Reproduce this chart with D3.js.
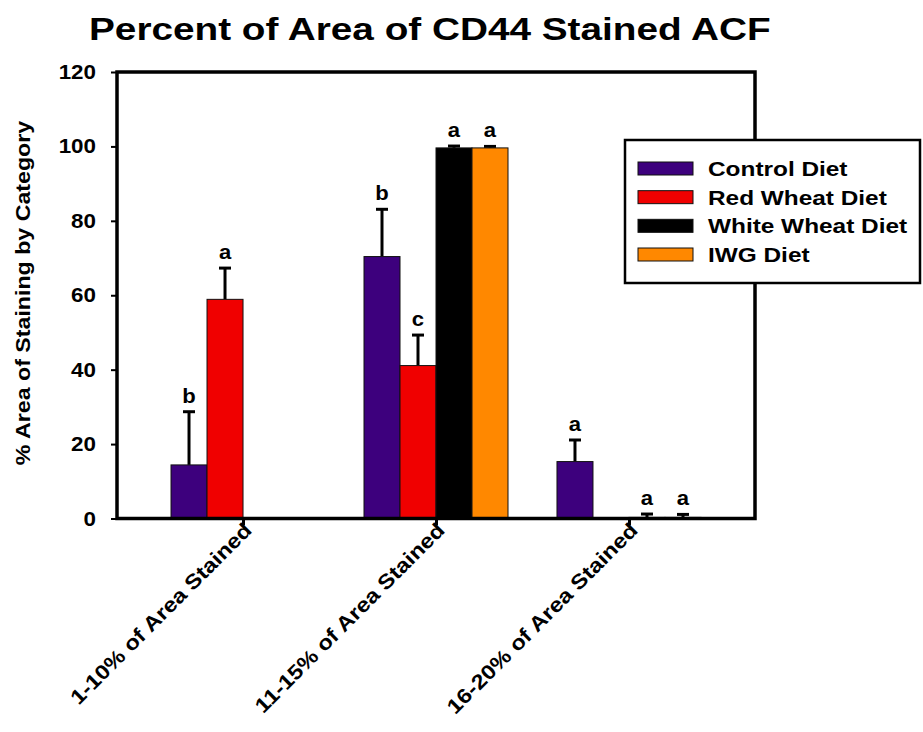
<!DOCTYPE html>
<html><head><meta charset="utf-8">
<script src="https://cdn.jsdelivr.net/npm/d3@7"></script>
<style>body{margin:0;background:#fff}svg{display:block;font-family:"Liberation Sans",Arial,sans-serif;font-weight:bold}</style>
</head><body><div id="chart"></div>
<script>
const title = "Percent of Area of CD44 Stained ACF";
const yTitle = "% Area of Staining by Category";
const categories = ["1-10% of Area Stained","11-15% of Area Stained","16-20% of Area Stained"];
const seriesNames = ["Control Diet","Red Wheat Diet","White Wheat Diet","IWG Diet"];
const seriesColors = ["#3d007d","#f00000","#000000","#ff8800"];
const controlVals = [14.4, 70.4, 15.3];
const controlErr  = [14.3, 12.7, 5.8];
const redVals     = [58.9, 41.1, null];
const redErr      = [8.4, 8.2, null];
const whiteVals   = [null, 99.6, 0.3];
const whiteErr    = [null, 0.5, 0.9];
const iwgVals     = [null, 99.6, 0.3];
const iwgErr      = [null, 0.4, 0.8];
const controlLetters = ["b","b","a"];
const redLetters     = ["a","c",""];
const whiteLetters   = ["","a","a"];
const iwgLetters     = ["","a","a"];
const yTicks = [0,20,40,60,80,100,120];

const vals = [controlVals, redVals, whiteVals, iwgVals];
const errs = [controlErr, redErr, whiteErr, iwgErr];
const letters = [controlLetters, redLetters, whiteLetters, iwgLetters];

const W = 923, H = 732;
const L = 117, R = 755, T = 72, B = 518.5;
const SX = 1.2;

const svg = d3.select("#chart").append("svg").attr("width", W).attr("height", H);

const x = d3.scaleBand().domain(categories).range([L, R]).paddingInner(0).paddingOuter(0.153);
const xs = d3.scaleBand().domain(seriesNames).range([-72, 72]);
const y = d3.scaleLinear().domain([0, 120]).range([B, T]);

function stext(g, x0, y0, txt, size, anchor, sx, rot) {
  const t = g.append("text")
    .attr("transform", `translate(${x0},${y0})` + (rot ? ` rotate(${rot})` : "") + ` scale(${sx},1)`)
    .attr("text-anchor", anchor).attr("font-size", size).attr("fill", "#000").text(txt);
  return t;
}

// title
stext(svg, 89, 40, title, 31, "start", 1.25);

// bars
const data = [];
categories.forEach((c, ci) => {
  seriesNames.forEach((s, si) => {
    if (vals[si][ci] !== null) data.push({c, s, si, v: vals[si][ci], e: errs[si][ci], l: letters[si][ci]});
  });
});

const cx = d => x(d.c) + x.bandwidth() / 2 + xs(d.s) + xs.bandwidth() / 2;

// error bars (drawn under bars)
const eg = svg.append("g");
data.forEach(d => {
  eg.append("line").attr("x1", cx(d)).attr("x2", cx(d)).attr("y1", y(d.v)).attr("y2", y(d.v + d.e))
    .attr("stroke", "#000").attr("stroke-width", 3);
  eg.append("line").attr("x1", cx(d) - 6).attr("x2", cx(d) + 6).attr("y1", y(d.v + d.e)).attr("y2", y(d.v + d.e))
    .attr("stroke", "#000").attr("stroke-width", 3);
});

svg.append("g").selectAll("rect").data(data).join("rect")
  .attr("x", d => x(d.c) + x.bandwidth() / 2 + xs(d.s))
  .attr("y", d => y(d.v))
  .attr("width", xs.bandwidth())
  .attr("height", d => B - y(d.v))
  .attr("fill", d => seriesColors[d.si])
  .attr("stroke", "#111").attr("stroke-width", 1);

// letters
data.forEach(d => {
  if (d.l) stext(svg, cx(d), y(d.v + d.e) - 9, d.l, 21, "middle", 1.05);
});

// frame
svg.append("rect").attr("x", L).attr("y", T).attr("width", R - L).attr("height", B - T)
  .attr("fill", "none").attr("stroke", "#000").attr("stroke-width", 3.5);

// y axis ticks
const yAxis = svg.append("g").attr("transform", `translate(${L},0)`)
  .call(d3.axisLeft(y).tickValues(yTicks).tickSize(6).tickFormat(""));
yAxis.select(".domain").remove();
yAxis.selectAll("line").attr("stroke", "#000").attr("stroke-width", 2);
yTicks.forEach(v => stext(svg, 96, y(v) + 7, String(v), 20, "end", 1.12));

// x axis ticks
const xAxis = svg.append("g").attr("transform", `translate(0,${B})`)
  .call(d3.axisBottom(d3.scalePoint().domain(categories).range([x(categories[0]) + x.bandwidth()/2, x(categories[2]) + x.bandwidth()/2])).tickSize(7).tickFormat(""));
xAxis.select(".domain").remove();
xAxis.selectAll("line").attr("stroke", "#000").attr("stroke-width", 3);
categories.forEach(c => {
  stext(svg, x(c) + x.bandwidth() / 2 + 10, B + 13, c, 20.5, "end", 1.15, -45);
});

// y title
stext(svg, 30, 293, yTitle, 20, "middle", 1.16, -90);

// legend
const lg = svg.append("g");
lg.append("rect").attr("x", 625).attr("y", 140).attr("width", 295).attr("height", 143)
  .attr("fill", "#fff").attr("stroke", "#000").attr("stroke-width", 2.5);
const ly = d3.scalePoint().domain(seriesNames).range([168.5, 254.5]);
seriesNames.forEach((s, i) => {
  lg.append("rect").attr("x", 638).attr("y", ly(s) - 6.5).attr("width", 55).attr("height", 13)
    .attr("fill", seriesColors[i]).attr("stroke", "#111").attr("stroke-width", 1);
  stext(lg, 708, ly(s) + 7.5, s, 20.5, "start", 1.19);
});
</script></body></html>
